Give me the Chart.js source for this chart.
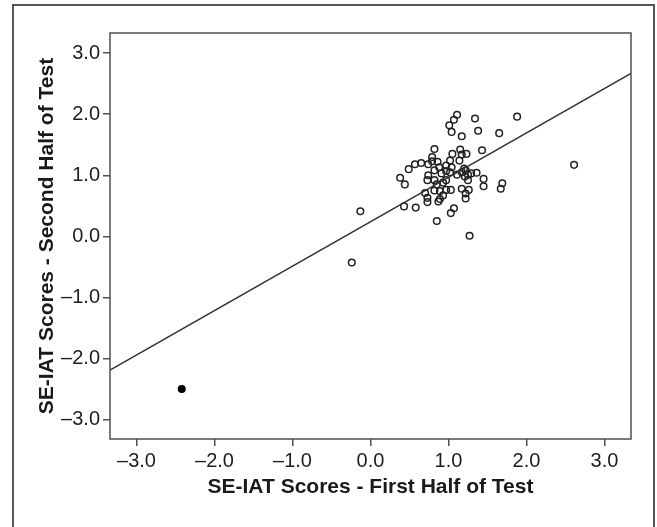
<!DOCTYPE html>
<html lang="en">

<head>
    <meta charset="UTF-8">
    <title>SE-IAT Split-Half Scatter</title>
    <style>
        html, body {
            margin: 0;
            padding: 0;
            background: #fff;
            overflow: hidden;
        }

        .frame {
            position: absolute;
            left: 12px;
            top: 4px;
            width: 639px;
            height: 600px;
            border: 2px solid #555;
        }

        .chart-container {
            position: absolute;
            left: 0;
            top: 0;
            width: 657px;
            height: 527px;
        }
    </style>
</head>

<body>
    <div class="frame"></div>
    <div class="chart-container">
        <canvas id="scatter-chart" width="657" height="527"></canvas>
    </div>
    <script src="https://cdn.jsdelivr.net/npm/chart.js"></script>
    <script>
    // first half / second half scores
    const firstHalf = [
        -0.24, -0.13, 0.43, 0.58, 0.85, 1.27, 1.03, 1.07, 0.73, 0.73,
        0.70, 0.87, 0.89, 0.93, 0.97, 0.89, 0.82, 0.38, 0.44, 0.49,
        0.57, 0.65, 0.74, 0.73, 0.74, 0.79, 0.82, 0.79, 0.86, 0.88,
        0.82, 0.85, 0.91, 0.97, 0.97, 1.02, 1.04, 0.97, 1.02, 1.05,
        1.03, 1.11, 1.07, 1.01, 1.04, 1.34, 1.38, 1.17, 1.65, 1.88,
        1.43, 1.15, 1.17, 1.23, 1.14, 1.20, 1.17, 1.22, 1.25, 1.21,
        1.29, 1.36, 1.25, 1.45, 1.45, 1.69, 1.67, 1.17, 1.22, 1.26,
        1.22, 1.11, 0.82, 0.93, 2.61
    ];
    const secondHalf = [
        -0.43, 0.41, 0.49, 0.47, 0.25, 0.01, 0.38, 0.46, 0.56, 0.63,
        0.71, 0.57, 0.61, 0.67, 0.76, 0.74, 0.75, 0.96, 0.85, 1.10,
        1.18, 1.20, 1.00, 0.92, 1.18, 1.30, 1.43, 1.23, 1.22, 1.13,
        0.92, 0.85, 1.03, 1.07, 0.92, 1.05, 1.13, 1.16, 1.24, 1.35,
        0.76, 1.99, 1.91, 1.82, 1.71, 1.93, 1.73, 1.64, 1.69, 1.96,
        1.41, 1.42, 1.34, 1.35, 1.24, 1.11, 1.05, 1.08, 1.01, 0.98,
        1.03, 1.04, 0.92, 0.94, 0.82, 0.87, 0.78, 0.78, 0.70, 0.76,
        0.62, 1.01, 1.08, 0.88, 1.17
    ];
    // the one solid marker
    const outlierX = [-2.42];
    const outlierY = [-2.50];
    // fitted line end points
    const fitX = [-3.34, 3.34];
    const fitY = [-2.19, 2.67];

    const tickValues = [-3, -2, -1, 0, 1, 2, 3];
    const tickLabels = ['\u20133.0', '\u20132.0', '\u20131.0', '0.0', '1.0', '2.0', '3.0'];
    const xTitle = 'SE-IAT Scores - First Half of Test';
    const yTitle = 'SE-IAT Scores - Second Half of Test';

    const family = '"Liberation Sans", Arial, Helvetica, sans-serif';
    const tickFont = { family: family, size: 20 };
    const titleFont = { family: family, size: 21, weight: 'bold' };

    const toPoints = (xs, ys) => xs.map((x, i) => ({ x: x, y: ys[i] }));

    // box round the plot area
    const boxPlugin = {
        id: 'box',
        afterDraw(chart) {
            const a = chart.chartArea;
            const ctx = chart.ctx;
            ctx.save();
            ctx.strokeStyle = '#505050';
            ctx.lineWidth = 1.5;
            ctx.strokeRect(a.left, a.top, a.right - a.left, a.bottom - a.top);
            ctx.restore();
        }
    };

    function axis(min, max, extra) {
        return Object.assign({
            type: 'linear',
            min: min,
            max: max,
            afterBuildTicks: s => { s.ticks = tickValues.map(v => ({ value: v })); },
            ticks: {
                callback: (v, i) => tickLabels[i],
                font: tickFont,
                color: '#1e1e1e',
                autoSkip: false,
                maxRotation: 0
            },
            grid: {
                drawOnChartArea: false,
                drawTicks: true,
                tickLength: 7,
                color: '#505050',
                lineWidth: 1.5
            },
            border: { display: false }
        }, extra);
    }

    const ctx = document.getElementById('scatter-chart').getContext('2d');
    new Chart(ctx, {
        type: 'scatter',
        data: {
            datasets: [
                {
                    data: toPoints(fitX, fitY),
                    showLine: true,
                    borderColor: '#333',
                    borderWidth: 1.5,
                    pointRadius: 0
                },
                {
                    data: toPoints(firstHalf, secondHalf),
                    pointStyle: 'circle',
                    pointRadius: 3.3,
                    borderWidth: 1.5,
                    borderColor: '#222',
                    backgroundColor: 'rgba(0,0,0,0)'
                },
                {
                    data: toPoints(outlierX, outlierY),
                    pointRadius: 4,
                    borderWidth: 0,
                    backgroundColor: '#000'
                }
            ]
        },
        options: {
            responsive: false,
            animation: false,
            devicePixelRatio: 1,
            layout: { padding: { top: 33, right: 26, bottom: 0, left: 0 } },
            plugins: {
                legend: { display: false },
                tooltip: { enabled: false }
            },
            scales: {
                x: axis(-3.34, 3.34, {
                    position: 'bottom',
                    afterFit: s => { s.height = 88; },
                    title: { display: true, text: xTitle, font: titleFont, color: '#1a1a1a', padding: { top: 0, bottom: 27 } }
                }),
                y: axis(-3.32, 3.33, {
                    position: 'left',
                    afterFit: s => { s.width = 110; },
                    title: { display: true, text: yTitle, font: titleFont, color: '#1a1a1a', padding: { top: 35, bottom: 0 } }
                })
            }
        },
        plugins: [boxPlugin]
    });
    </script>
</body>

</html>
